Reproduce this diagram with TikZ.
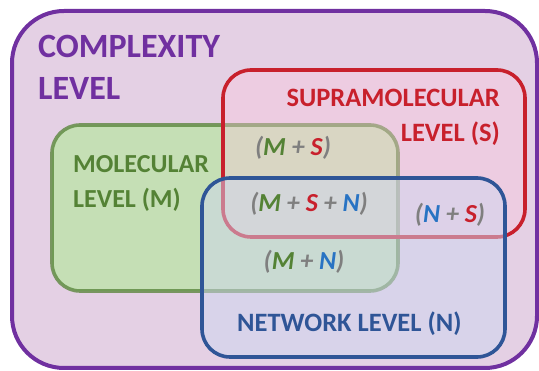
\documentclass[tikz,border=0pt]{standalone}
\usepackage{fontspec}
\setmainfont{Carlito}
\usepackage{tikz}
\usetikzlibrary{ % tikz packages
    positioning
}
\definecolor{cplxPurple}{RGB}{112,48,160}
\definecolor{cplxBack}{RGB}{228,208,228}
\definecolor{supRed}{RGB}{200,32,44}
\definecolor{supFill}{RGB}{255,199,222}
\definecolor{molGreen}{RGB}{84,130,53}
\definecolor{molFill}{RGB}{177,233,150}
\definecolor{netBlue}{RGB}{47,85,151}
\definecolor{netFill}{RGB}{206,214,240}
\definecolor{pairBlue}{RGB}{40,115,195}
\definecolor{pairGrey}{RGB}{127,127,127}
\tikzset{
    levelbox/.style={rounded corners=28pt, line width=3.6pt},
    levellabel/.style={inner sep=0pt, font=\bfseries},
    pairlabel/.style={inner sep=0pt, anchor=base, text=pairGrey,
        font=\fontsize{26}{30}\selectfont\bfseries\itshape}
}
\newcommand{\mM}{\textcolor{molGreen}{M}}
\newcommand{\mS}{\textcolor{supRed}{S}}
\newcommand{\mN}{\textcolor{pairBlue}{N}}

\begin{document}
\begin{tikzpicture}[x=1pt,y=-1pt]
        \useasboundingbox (0,0) rectangle (539,371);

        % complexity level
        \draw[rounded corners=52pt, line width=4pt, draw=cplxPurple, fill=cplxBack]
            (12,11) rectangle (537,368);

        % molecular, supramolecular and network levels
        \draw[levelbox, draw=molGreen, draw opacity=0.75, fill=molFill, fill opacity=0.6]
            (52,125) rectangle (398,291);
        \draw[levelbox, draw=supRed, fill=supFill, fill opacity=0.35]
            (223,70) rectangle (525,237);
        \draw[levelbox, fill=netFill, fill opacity=0.5, draw=none]
            (202,178) rectangle (505,357);
        \draw[levelbox, draw=netBlue]
            (202,178) rectangle (505,357);

        \node[levellabel, anchor=north west, align=left, text=cplxPurple,
            font=\fontsize{34}{42}\selectfont\bfseries] (cplx) at (38,35)
            {COMPLEXITY\\LEVEL};
        \node[levellabel, anchor=north east, align=right, text=supRed,
            font=\fontsize{26.5}{35}\selectfont\bfseries] (sup) at (500,89)
            {SUPRAMOLECULAR\\LEVEL (S)};
        \node[levellabel, anchor=north west, align=left, text=molGreen,
            font=\fontsize{26}{35}\selectfont\bfseries] (mol) at (73,155)
            {MOLECULAR\\LEVEL (M)};
        \node[levellabel, anchor=base west, text=netBlue,
            font=\fontsize{26.5}{30}\selectfont\bfseries] (net) at (237,332)
            {NETWORK LEVEL (N)};

        \node[pairlabel] (ms) at (293,156) {(\mM\ + \mS)};
        \node[pairlabel] (msn) at (309,212) {(\mM\ + \mS\ + \mN)};
        \node[pairlabel] (ns) at (450,223) {(\mN\ + \mS)};
        \node[pairlabel] (mn) at (304,270) {(\mM\ + \mN)};
    \end{tikzpicture}
\end{document}
